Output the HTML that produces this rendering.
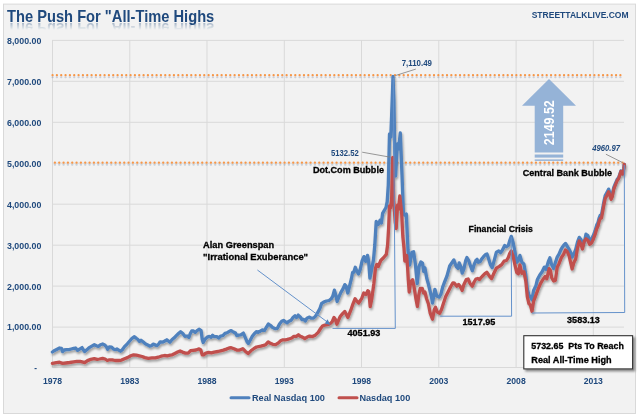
<!DOCTYPE html>
<html><head><meta charset="utf-8"><style>
html,body{margin:0;padding:0;background:#fff;}
svg{display:block;will-change:transform;}
text{font-family:"Liberation Sans",sans-serif;font-weight:bold;}
</style></head><body>
<svg width="640" height="418" viewBox="0 0 640 418">
<defs>
<filter id="sh" x="-5%" y="-5%" width="110%" height="115%">
<feGaussianBlur in="SourceAlpha" stdDeviation="0.9"/>
<feOffset dx="0.8" dy="2" result="b"/>
<feFlood flood-color="#000" flood-opacity="0.35"/>
<feComposite in2="b" operator="in"/>
<feMerge><feMergeNode/><feMergeNode in="SourceGraphic"/></feMerge>
</filter>
<filter id="dsh" x="-5%" y="-50%" width="110%" height="200%">
<feGaussianBlur in="SourceAlpha" stdDeviation="0.7"/>
<feOffset dx="0" dy="1.5" result="b"/>
<feFlood flood-color="#1f3f6f" flood-opacity="0.2"/>
<feComposite in2="b" operator="in"/>
<feMerge><feMergeNode/><feMergeNode in="SourceGraphic"/></feMerge>
</filter>
<filter id="bsh" x="-10%" y="-10%" width="130%" height="140%">
<feGaussianBlur in="SourceAlpha" stdDeviation="1"/>
<feOffset dx="2" dy="2" result="b"/>
<feFlood flood-color="#000" flood-opacity="0.45"/>
<feComposite in2="b" operator="in"/>
<feMerge><feMergeNode/><feMergeNode in="SourceGraphic"/></feMerge>
</filter>
<linearGradient id="refl" x1="0" y1="0" x2="0" y2="1">
<stop offset="0" stop-color="#1f497d" stop-opacity="0"/>
<stop offset="0.4" stop-color="#1f497d" stop-opacity="0"/>
<stop offset="0.8" stop-color="#1f497d" stop-opacity="0.36"/>
</linearGradient>
<filter id="rblur"><feGaussianBlur stdDeviation="0.7"/></filter>
</defs>
<rect x="0" y="0" width="640" height="418" fill="#fff"/>
<rect x="3.5" y="4.1" width="632" height="409.4" fill="#f2f2f2" stroke="#d9d9d9" stroke-width="1"/>
<!-- title -->
<g transform="translate(0,44.2) scale(1,-1)" filter="url(#rblur)"><text x="7" y="21.6" font-size="15.7" fill="url(#refl)" textLength="207.3" lengthAdjust="spacingAndGlyphs">The Push For "All-Time Highs</text></g>
<text x="7" y="21.6" font-size="15.7" fill="#1f497d" textLength="207.3" lengthAdjust="spacingAndGlyphs">The Push For "All-Time Highs</text>
<text x="628.6" y="17.9" font-size="9.9" fill="#1f497d" text-anchor="end" textLength="96.9" lengthAdjust="spacingAndGlyphs">STREETTALKLIVE.COM</text>
<!-- grid -->
<g stroke="#d9d9d9" stroke-width="1">
<line x1="52" y1="40.4" x2="624" y2="40.4"/>
<line x1="52" y1="81.3" x2="624" y2="81.3"/>
<line x1="52" y1="122.3" x2="624" y2="122.3"/>
<line x1="52" y1="163.2" x2="624" y2="163.2"/>
<line x1="52" y1="204.2" x2="624" y2="204.2"/>
<line x1="52" y1="245.2" x2="624" y2="245.2"/>
<line x1="52" y1="286.1" x2="624" y2="286.1"/>
<line x1="52" y1="327.1" x2="624" y2="327.1"/>
<line x1="129.8" y1="40" x2="129.8" y2="367"/>
<line x1="207.0" y1="40" x2="207.0" y2="367"/>
<line x1="284.3" y1="40" x2="284.3" y2="367"/>
<line x1="361.5" y1="40" x2="361.5" y2="367"/>
<line x1="438.8" y1="40" x2="438.8" y2="367"/>
<line x1="516.1" y1="40" x2="516.1" y2="367"/>
<line x1="593.3" y1="40" x2="593.3" y2="367"/>
<line x1="52.5" y1="40" x2="52.5" y2="367.5"/>
<line x1="52" y1="367.5" x2="624" y2="367.5"/>
</g>
<!-- axis labels -->
<g font-size="8.2" fill="#1f497d">
<text x="41.3" y="43.8" text-anchor="end" textLength="34.3" lengthAdjust="spacingAndGlyphs">8,000.00</text>
<text x="41.3" y="84.8" text-anchor="end" textLength="34.3" lengthAdjust="spacingAndGlyphs">7,000.00</text>
<text x="41.3" y="125.7" text-anchor="end" textLength="34.3" lengthAdjust="spacingAndGlyphs">6,000.00</text>
<text x="41.3" y="166.7" text-anchor="end" textLength="34.3" lengthAdjust="spacingAndGlyphs">5,000.00</text>
<text x="41.3" y="207.6" text-anchor="end" textLength="34.3" lengthAdjust="spacingAndGlyphs">4,000.00</text>
<text x="41.3" y="248.6" text-anchor="end" textLength="34.3" lengthAdjust="spacingAndGlyphs">3,000.00</text>
<text x="41.3" y="289.5" text-anchor="end" textLength="34.3" lengthAdjust="spacingAndGlyphs">2,000.00</text>
<text x="41.3" y="330.4" text-anchor="end" textLength="34.3" lengthAdjust="spacingAndGlyphs">1,000.00</text>
<text x="35.6" y="371" text-anchor="middle">-</text>
<text x="52.5" y="383.5" text-anchor="middle" textLength="19.2" lengthAdjust="spacingAndGlyphs">1978</text>
<text x="129.8" y="383.5" text-anchor="middle" textLength="19.2" lengthAdjust="spacingAndGlyphs">1983</text>
<text x="207.0" y="383.5" text-anchor="middle" textLength="19.2" lengthAdjust="spacingAndGlyphs">1988</text>
<text x="284.3" y="383.5" text-anchor="middle" textLength="19.2" lengthAdjust="spacingAndGlyphs">1993</text>
<text x="361.5" y="383.5" text-anchor="middle" textLength="19.2" lengthAdjust="spacingAndGlyphs">1998</text>
<text x="438.8" y="383.5" text-anchor="middle" textLength="19.2" lengthAdjust="spacingAndGlyphs">2003</text>
<text x="516.1" y="383.5" text-anchor="middle" textLength="19.2" lengthAdjust="spacingAndGlyphs">2008</text>
<text x="593.3" y="383.5" text-anchor="middle" textLength="19.2" lengthAdjust="spacingAndGlyphs">2013</text>
</g>
<!-- orange dotted lines -->
<g fill="#f79646" filter="url(#dsh)">
<circle cx="52.56" cy="75.2" r="1.15"/>
<circle cx="54.90" cy="162.7" r="1.15"/>
<circle cx="56.89" cy="75.2" r="1.15"/>
<circle cx="59.23" cy="162.7" r="1.15"/>
<circle cx="61.23" cy="75.2" r="1.15"/>
<circle cx="63.57" cy="162.7" r="1.15"/>
<circle cx="65.56" cy="75.2" r="1.15"/>
<circle cx="67.90" cy="162.7" r="1.15"/>
<circle cx="69.90" cy="75.2" r="1.15"/>
<circle cx="72.23" cy="162.7" r="1.15"/>
<circle cx="74.23" cy="75.2" r="1.15"/>
<circle cx="76.57" cy="162.7" r="1.15"/>
<circle cx="78.57" cy="75.2" r="1.15"/>
<circle cx="80.90" cy="162.7" r="1.15"/>
<circle cx="82.90" cy="75.2" r="1.15"/>
<circle cx="85.24" cy="162.7" r="1.15"/>
<circle cx="87.24" cy="75.2" r="1.15"/>
<circle cx="89.57" cy="162.7" r="1.15"/>
<circle cx="91.57" cy="75.2" r="1.15"/>
<circle cx="93.90" cy="162.7" r="1.15"/>
<circle cx="95.91" cy="75.2" r="1.15"/>
<circle cx="98.24" cy="162.7" r="1.15"/>
<circle cx="100.24" cy="75.2" r="1.15"/>
<circle cx="102.57" cy="162.7" r="1.15"/>
<circle cx="104.58" cy="75.2" r="1.15"/>
<circle cx="106.90" cy="162.7" r="1.15"/>
<circle cx="108.91" cy="75.2" r="1.15"/>
<circle cx="111.24" cy="162.7" r="1.15"/>
<circle cx="113.24" cy="75.2" r="1.15"/>
<circle cx="115.57" cy="162.7" r="1.15"/>
<circle cx="117.58" cy="75.2" r="1.15"/>
<circle cx="119.90" cy="162.7" r="1.15"/>
<circle cx="121.91" cy="75.2" r="1.15"/>
<circle cx="124.24" cy="162.7" r="1.15"/>
<circle cx="126.25" cy="75.2" r="1.15"/>
<circle cx="128.57" cy="162.7" r="1.15"/>
<circle cx="130.58" cy="75.2" r="1.15"/>
<circle cx="132.90" cy="162.7" r="1.15"/>
<circle cx="134.92" cy="75.2" r="1.15"/>
<circle cx="137.24" cy="162.7" r="1.15"/>
<circle cx="139.25" cy="75.2" r="1.15"/>
<circle cx="141.57" cy="162.7" r="1.15"/>
<circle cx="143.59" cy="75.2" r="1.15"/>
<circle cx="145.91" cy="162.7" r="1.15"/>
<circle cx="147.92" cy="75.2" r="1.15"/>
<circle cx="150.24" cy="162.7" r="1.15"/>
<circle cx="152.26" cy="75.2" r="1.15"/>
<circle cx="154.57" cy="162.7" r="1.15"/>
<circle cx="156.59" cy="75.2" r="1.15"/>
<circle cx="158.91" cy="162.7" r="1.15"/>
<circle cx="160.93" cy="75.2" r="1.15"/>
<circle cx="163.24" cy="162.7" r="1.15"/>
<circle cx="165.26" cy="75.2" r="1.15"/>
<circle cx="167.57" cy="162.7" r="1.15"/>
<circle cx="169.59" cy="75.2" r="1.15"/>
<circle cx="171.91" cy="162.7" r="1.15"/>
<circle cx="173.93" cy="75.2" r="1.15"/>
<circle cx="176.24" cy="162.7" r="1.15"/>
<circle cx="178.26" cy="75.2" r="1.15"/>
<circle cx="180.57" cy="162.7" r="1.15"/>
<circle cx="182.60" cy="75.2" r="1.15"/>
<circle cx="184.91" cy="162.7" r="1.15"/>
<circle cx="186.93" cy="75.2" r="1.15"/>
<circle cx="189.24" cy="162.7" r="1.15"/>
<circle cx="191.27" cy="75.2" r="1.15"/>
<circle cx="193.58" cy="162.7" r="1.15"/>
<circle cx="195.60" cy="75.2" r="1.15"/>
<circle cx="197.91" cy="162.7" r="1.15"/>
<circle cx="199.94" cy="75.2" r="1.15"/>
<circle cx="202.24" cy="162.7" r="1.15"/>
<circle cx="204.27" cy="75.2" r="1.15"/>
<circle cx="206.58" cy="162.7" r="1.15"/>
<circle cx="208.61" cy="75.2" r="1.15"/>
<circle cx="210.91" cy="162.7" r="1.15"/>
<circle cx="212.94" cy="75.2" r="1.15"/>
<circle cx="215.24" cy="162.7" r="1.15"/>
<circle cx="217.27" cy="75.2" r="1.15"/>
<circle cx="219.58" cy="162.7" r="1.15"/>
<circle cx="221.61" cy="75.2" r="1.15"/>
<circle cx="223.91" cy="162.7" r="1.15"/>
<circle cx="225.94" cy="75.2" r="1.15"/>
<circle cx="228.24" cy="162.7" r="1.15"/>
<circle cx="230.28" cy="75.2" r="1.15"/>
<circle cx="232.58" cy="162.7" r="1.15"/>
<circle cx="234.61" cy="75.2" r="1.15"/>
<circle cx="236.91" cy="162.7" r="1.15"/>
<circle cx="238.95" cy="75.2" r="1.15"/>
<circle cx="241.24" cy="162.7" r="1.15"/>
<circle cx="243.28" cy="75.2" r="1.15"/>
<circle cx="245.58" cy="162.7" r="1.15"/>
<circle cx="247.62" cy="75.2" r="1.15"/>
<circle cx="249.91" cy="162.7" r="1.15"/>
<circle cx="251.95" cy="75.2" r="1.15"/>
<circle cx="254.25" cy="162.7" r="1.15"/>
<circle cx="256.29" cy="75.2" r="1.15"/>
<circle cx="258.58" cy="162.7" r="1.15"/>
<circle cx="260.62" cy="75.2" r="1.15"/>
<circle cx="262.91" cy="162.7" r="1.15"/>
<circle cx="264.96" cy="75.2" r="1.15"/>
<circle cx="267.25" cy="162.7" r="1.15"/>
<circle cx="269.29" cy="75.2" r="1.15"/>
<circle cx="271.58" cy="162.7" r="1.15"/>
<circle cx="273.62" cy="75.2" r="1.15"/>
<circle cx="275.91" cy="162.7" r="1.15"/>
<circle cx="277.96" cy="75.2" r="1.15"/>
<circle cx="280.25" cy="162.7" r="1.15"/>
<circle cx="282.29" cy="75.2" r="1.15"/>
<circle cx="284.58" cy="162.7" r="1.15"/>
<circle cx="286.63" cy="75.2" r="1.15"/>
<circle cx="288.91" cy="162.7" r="1.15"/>
<circle cx="290.96" cy="75.2" r="1.15"/>
<circle cx="293.25" cy="162.7" r="1.15"/>
<circle cx="295.30" cy="75.2" r="1.15"/>
<circle cx="297.58" cy="162.7" r="1.15"/>
<circle cx="299.63" cy="75.2" r="1.15"/>
<circle cx="301.92" cy="162.7" r="1.15"/>
<circle cx="303.97" cy="75.2" r="1.15"/>
<circle cx="306.25" cy="162.7" r="1.15"/>
<circle cx="308.30" cy="75.2" r="1.15"/>
<circle cx="310.58" cy="162.7" r="1.15"/>
<circle cx="312.64" cy="75.2" r="1.15"/>
<circle cx="314.92" cy="162.7" r="1.15"/>
<circle cx="316.97" cy="75.2" r="1.15"/>
<circle cx="319.25" cy="162.7" r="1.15"/>
<circle cx="321.31" cy="75.2" r="1.15"/>
<circle cx="323.58" cy="162.7" r="1.15"/>
<circle cx="325.64" cy="75.2" r="1.15"/>
<circle cx="327.92" cy="162.7" r="1.15"/>
<circle cx="329.97" cy="75.2" r="1.15"/>
<circle cx="332.25" cy="162.7" r="1.15"/>
<circle cx="334.31" cy="75.2" r="1.15"/>
<circle cx="336.58" cy="162.7" r="1.15"/>
<circle cx="338.64" cy="75.2" r="1.15"/>
<circle cx="340.92" cy="162.7" r="1.15"/>
<circle cx="342.98" cy="75.2" r="1.15"/>
<circle cx="345.25" cy="162.7" r="1.15"/>
<circle cx="347.31" cy="75.2" r="1.15"/>
<circle cx="349.58" cy="162.7" r="1.15"/>
<circle cx="351.65" cy="75.2" r="1.15"/>
<circle cx="353.92" cy="162.7" r="1.15"/>
<circle cx="355.98" cy="75.2" r="1.15"/>
<circle cx="358.25" cy="162.7" r="1.15"/>
<circle cx="360.32" cy="75.2" r="1.15"/>
<circle cx="362.59" cy="162.7" r="1.15"/>
<circle cx="364.65" cy="75.2" r="1.15"/>
<circle cx="366.92" cy="162.7" r="1.15"/>
<circle cx="368.99" cy="75.2" r="1.15"/>
<circle cx="371.25" cy="162.7" r="1.15"/>
<circle cx="373.32" cy="75.2" r="1.15"/>
<circle cx="375.59" cy="162.7" r="1.15"/>
<circle cx="377.66" cy="75.2" r="1.15"/>
<circle cx="379.92" cy="162.7" r="1.15"/>
<circle cx="381.99" cy="75.2" r="1.15"/>
<circle cx="384.25" cy="162.7" r="1.15"/>
<circle cx="386.32" cy="75.2" r="1.15"/>
<circle cx="388.59" cy="162.7" r="1.15"/>
<circle cx="390.66" cy="75.2" r="1.15"/>
<circle cx="392.92" cy="162.7" r="1.15"/>
<circle cx="394.99" cy="75.2" r="1.15"/>
<circle cx="397.25" cy="162.7" r="1.15"/>
<circle cx="399.33" cy="75.2" r="1.15"/>
<circle cx="401.59" cy="162.7" r="1.15"/>
<circle cx="403.66" cy="75.2" r="1.15"/>
<circle cx="405.92" cy="162.7" r="1.15"/>
<circle cx="408.00" cy="75.2" r="1.15"/>
<circle cx="410.26" cy="162.7" r="1.15"/>
<circle cx="412.33" cy="75.2" r="1.15"/>
<circle cx="414.59" cy="162.7" r="1.15"/>
<circle cx="416.67" cy="75.2" r="1.15"/>
<circle cx="418.92" cy="162.7" r="1.15"/>
<circle cx="421.00" cy="75.2" r="1.15"/>
<circle cx="423.26" cy="162.7" r="1.15"/>
<circle cx="425.34" cy="75.2" r="1.15"/>
<circle cx="427.59" cy="162.7" r="1.15"/>
<circle cx="429.67" cy="75.2" r="1.15"/>
<circle cx="431.92" cy="162.7" r="1.15"/>
<circle cx="434.00" cy="75.2" r="1.15"/>
<circle cx="436.26" cy="162.7" r="1.15"/>
<circle cx="438.34" cy="75.2" r="1.15"/>
<circle cx="440.59" cy="162.7" r="1.15"/>
<circle cx="442.67" cy="75.2" r="1.15"/>
<circle cx="444.92" cy="162.7" r="1.15"/>
<circle cx="447.01" cy="75.2" r="1.15"/>
<circle cx="449.26" cy="162.7" r="1.15"/>
<circle cx="451.34" cy="75.2" r="1.15"/>
<circle cx="453.59" cy="162.7" r="1.15"/>
<circle cx="455.68" cy="75.2" r="1.15"/>
<circle cx="457.92" cy="162.7" r="1.15"/>
<circle cx="460.01" cy="75.2" r="1.15"/>
<circle cx="462.26" cy="162.7" r="1.15"/>
<circle cx="464.35" cy="75.2" r="1.15"/>
<circle cx="466.59" cy="162.7" r="1.15"/>
<circle cx="468.68" cy="75.2" r="1.15"/>
<circle cx="470.93" cy="162.7" r="1.15"/>
<circle cx="473.02" cy="75.2" r="1.15"/>
<circle cx="475.26" cy="162.7" r="1.15"/>
<circle cx="477.35" cy="75.2" r="1.15"/>
<circle cx="479.59" cy="162.7" r="1.15"/>
<circle cx="481.69" cy="75.2" r="1.15"/>
<circle cx="483.93" cy="162.7" r="1.15"/>
<circle cx="486.02" cy="75.2" r="1.15"/>
<circle cx="488.26" cy="162.7" r="1.15"/>
<circle cx="490.35" cy="75.2" r="1.15"/>
<circle cx="492.59" cy="162.7" r="1.15"/>
<circle cx="494.69" cy="75.2" r="1.15"/>
<circle cx="496.93" cy="162.7" r="1.15"/>
<circle cx="499.02" cy="75.2" r="1.15"/>
<circle cx="501.26" cy="162.7" r="1.15"/>
<circle cx="503.36" cy="75.2" r="1.15"/>
<circle cx="505.59" cy="162.7" r="1.15"/>
<circle cx="507.69" cy="75.2" r="1.15"/>
<circle cx="509.93" cy="162.7" r="1.15"/>
<circle cx="512.03" cy="75.2" r="1.15"/>
<circle cx="514.26" cy="162.7" r="1.15"/>
<circle cx="516.36" cy="75.2" r="1.15"/>
<circle cx="518.60" cy="162.7" r="1.15"/>
<circle cx="520.70" cy="75.2" r="1.15"/>
<circle cx="522.93" cy="162.7" r="1.15"/>
<circle cx="525.03" cy="75.2" r="1.15"/>
<circle cx="527.26" cy="162.7" r="1.15"/>
<circle cx="529.37" cy="75.2" r="1.15"/>
<circle cx="531.60" cy="162.7" r="1.15"/>
<circle cx="533.70" cy="75.2" r="1.15"/>
<circle cx="535.93" cy="162.7" r="1.15"/>
<circle cx="538.04" cy="75.2" r="1.15"/>
<circle cx="540.26" cy="162.7" r="1.15"/>
<circle cx="542.37" cy="75.2" r="1.15"/>
<circle cx="544.60" cy="162.7" r="1.15"/>
<circle cx="546.70" cy="75.2" r="1.15"/>
<circle cx="548.93" cy="162.7" r="1.15"/>
<circle cx="551.04" cy="75.2" r="1.15"/>
<circle cx="553.26" cy="162.7" r="1.15"/>
<circle cx="555.37" cy="75.2" r="1.15"/>
<circle cx="557.60" cy="162.7" r="1.15"/>
<circle cx="559.71" cy="75.2" r="1.15"/>
<circle cx="561.93" cy="162.7" r="1.15"/>
<circle cx="564.04" cy="75.2" r="1.15"/>
<circle cx="566.26" cy="162.7" r="1.15"/>
<circle cx="568.38" cy="75.2" r="1.15"/>
<circle cx="570.60" cy="162.7" r="1.15"/>
<circle cx="572.71" cy="75.2" r="1.15"/>
<circle cx="574.93" cy="162.7" r="1.15"/>
<circle cx="577.05" cy="75.2" r="1.15"/>
<circle cx="579.27" cy="162.7" r="1.15"/>
<circle cx="581.38" cy="75.2" r="1.15"/>
<circle cx="583.60" cy="162.7" r="1.15"/>
<circle cx="585.72" cy="75.2" r="1.15"/>
<circle cx="587.93" cy="162.7" r="1.15"/>
<circle cx="590.05" cy="75.2" r="1.15"/>
<circle cx="592.27" cy="162.7" r="1.15"/>
<circle cx="594.38" cy="75.2" r="1.15"/>
<circle cx="596.60" cy="162.7" r="1.15"/>
<circle cx="598.72" cy="75.2" r="1.15"/>
<circle cx="600.93" cy="162.7" r="1.15"/>
<circle cx="603.05" cy="75.2" r="1.15"/>
<circle cx="605.27" cy="162.7" r="1.15"/>
<circle cx="607.39" cy="75.2" r="1.15"/>
<circle cx="609.60" cy="162.7" r="1.15"/>
<circle cx="611.72" cy="75.2" r="1.15"/>
<circle cx="613.93" cy="162.7" r="1.15"/>
<circle cx="616.06" cy="75.2" r="1.15"/>
<circle cx="618.27" cy="162.7" r="1.15"/>
<circle cx="620.39" cy="75.2" r="1.15"/>
<circle cx="622.60" cy="162.7" r="1.15"/>
</g>
<!-- arrow -->
<g fill="#95b3d7">
<polygon points="549,79 576,105.8 563.2,105.8 563.2,152.5 534.7,152.5 534.7,105.8 522,105.8"/>
<rect x="534.7" y="154.5" width="28.5" height="3.1"/>
<rect x="534.7" y="159.4" width="28.5" height="1.5"/>
</g>
<text transform="translate(553.8,145.2) rotate(-90)" font-size="13.9" fill="#fff" textLength="45" lengthAdjust="spacingAndGlyphs">2149.52</text>
<!-- lines -->
<g fill="none" stroke-width="3.3" stroke-linejoin="round" stroke-linecap="round" filter="url(#sh)">
<polyline stroke="#4f81bd" points="52.4,352.0 54.7,350.4 57.1,349.2 59.5,348.0 61.4,348.4 62.6,351.6 64.2,350.0 66.6,349.6 68.9,349.6 71.3,349.0 73.7,348.4 75.6,348.0 77.6,350.4 80.0,348.8 82.0,347.6 83.1,349.6 84.6,351.6 87.2,349.4 89.3,347.6 91.8,346.1 94.3,344.7 96.5,345.8 98.3,346.5 100.4,344.7 102.6,344.0 104.7,345.0 106.5,346.8 107.6,349.4 109.4,346.8 111.6,347.2 113.4,349.0 115.2,349.7 116.9,349.0 118.7,350.1 120.5,351.2 122.3,349.7 124.5,346.6 127.3,343.8 129.7,341.0 132.0,338.3 134.4,336.7 136.3,338.3 137.9,339.5 139.5,341.4 141.0,340.2 143.0,341.8 145.3,343.8 147.7,344.9 149.6,346.1 151.6,345.7 153.1,344.1 155.1,344.9 157.0,345.7 158.6,344.1 160.2,341.8 162.5,342.2 164.8,341.0 166.8,339.8 168.4,341.0 169.9,342.2 171.9,339.8 174.2,337.8 176.3,335.6 178.5,333.5 180.6,331.7 182.8,333.5 184.9,336.4 187.1,336.0 188.9,337.4 190.3,333.5 191.7,331.0 193.5,331.0 195.3,332.4 197.1,330.6 199.3,329.2 201.1,330.6 202.2,339.2 203.2,342.5 205.0,339.2 207.2,337.1 209.3,336.4 211.1,337.4 212.6,335.3 214.4,336.7 216.8,336.6 218.6,338.1 220.7,336.0 222.9,335.6 225.0,333.4 227.2,332.7 229.4,331.3 231.2,330.6 233.3,332.0 235.5,333.1 236.9,335.6 238.7,335.2 240.8,334.9 243.4,333.1 245.2,337.4 247.0,341.7 248.4,343.5 250.2,340.3 252.3,336.3 254.5,333.4 256.6,331.6 258.1,332.4 260.0,331.3 262.3,329.8 264.5,330.5 266.3,327.3 268.4,324.0 270.6,325.5 272.7,327.6 275.2,328.7 277.4,328.3 279.5,324.0 281.7,321.2 283.5,320.4 285.6,321.9 287.1,322.9 288.9,321.2 291.0,320.4 293.2,317.2 295.0,315.8 296.4,317.6 298.2,315.1 300.4,317.2 302.1,319.7 303.8,319.5 305.4,320.9 307.0,318.2 309.1,317.1 311.3,318.2 313.5,318.2 315.6,316.1 317.8,312.3 319.9,308.5 321.5,303.7 323.7,302.1 326.4,301.0 329.1,300.5 331.2,298.8 332.8,296.1 334.4,290.2 336.1,296.1 337.1,301.5 338.8,297.2 340.9,292.4 343.1,288.6 344.8,284.6 346.0,285.8 347.8,293.0 349.6,285.8 351.4,278.7 352.6,272.5 353.8,272.3 355.3,267.3 356.7,270.9 358.5,273.9 360.3,269.1 362.1,260.8 363.9,256.6 365.7,261.4 367.5,255.4 368.7,261.9 369.9,278.1 371.7,269.1 373.5,259.6 374.8,245.0 376.2,221.5 378.3,224.5 380.1,220.1 381.4,223.0 382.6,213.4 384.5,210.0 386.0,207.5 387.2,201.7 388.3,185.0 389.5,134.0 390.8,137.0 392.2,100.0 393.0,76.5 393.9,100.0 394.7,150.0 395.6,176.0 397.3,144.0 398.6,149.0 400.3,133.0 402.0,175.0 403.4,213.0 404.5,215.0 406.3,214.0 408.0,250.0 409.7,265.0 411.8,252.4 413.6,251.8 415.4,264.3 417.2,283.5 419.0,266.7 420.8,262.0 422.5,263.1 423.7,271.5 424.9,267.9 426.7,278.0 428.5,284.5 430.3,292.0 431.5,297.0 432.5,303.0 433.7,296.5 434.9,289.3 436.7,295.9 439.1,297.1 440.9,294.1 442.7,287.0 444.5,282.2 446.9,276.2 449.7,266.0 453.8,259.9 456.2,266.5 458.0,268.3 459.2,262.9 461.0,267.1 462.2,273.1 463.9,268.9 465.7,260.5 466.9,257.5 468.7,260.5 470.5,265.9 472.3,270.7 474.1,264.7 475.9,260.5 477.1,259.3 478.3,262.3 480.1,261.7 481.9,258.7 483.7,256.4 485.5,254.6 487.0,254.0 488.6,258.7 490.4,264.6 492.2,267.6 494.0,261.1 496.4,252.1 498.7,250.9 500.5,252.7 502.3,250.3 504.7,245.5 506.5,246.7 508.3,245.5 509.5,241.4 511.3,236.4 513.1,242.5 514.9,251.5 516.7,262.3 518.2,260.7 519.9,255.4 521.9,262.4 523.9,264.0 525.8,274.9 527.3,288.9 528.9,295.1 530.4,296.7 532.0,299.8 533.6,290.4 535.9,285.8 537.4,279.5 539.8,274.9 542.1,271.8 544.4,267.1 546.0,269.4 548.3,261.7 549.9,257.8 551.4,264.0 553.6,268.5 555.4,262.5 557.2,257.1 559.0,254.1 560.8,249.9 562.5,246.9 564.3,244.6 565.5,243.4 567.3,246.4 569.1,249.3 570.9,252.9 572.1,257.1 573.9,254.1 575.7,249.3 577.5,242.2 579.3,237.4 581.1,239.8 582.9,245.8 584.6,241.0 586.0,234.2 587.8,235.6 589.6,240.3 591.4,239.3 593.2,235.8 595.0,231.1 596.7,225.1 597.9,222.8 599.1,218.1 600.3,215.2 601.5,214.7 602.7,208.3 603.9,201.7 605.2,195.5 606.9,192.7 608.6,189.1 609.8,192.8 611.1,197.2 612.3,194.9 613.7,187.7 615.0,184.4 616.2,181.6 617.2,179.3 618.7,177.5 619.8,174.2 620.9,170.9 622.0,172.0 622.8,173.7 623.8,168.7 624.3,164.5"/>
<polyline stroke="#c0504d" points="52.4,363.4 56.3,362.6 59.5,362.2 62.6,363.4 65.8,363.0 69.7,362.5 73.7,361.8 76.8,361.4 80.0,361.4 83.1,362.2 84.7,362.6 87.5,360.6 90.7,359.4 94.3,358.7 97.2,359.4 99.4,359.0 102.6,358.3 105.1,359.0 107.3,360.5 109.4,359.8 112.3,359.8 115.2,360.5 118.7,360.5 121.6,360.1 124.5,358.7 127.4,357.6 130.8,355.8 133.6,354.8 136.4,355.1 139.3,355.8 142.1,356.5 144.9,357.6 148.4,358.3 151.9,357.9 155.4,357.9 158.2,357.2 161.1,356.2 164.6,355.5 167.4,355.8 170.2,355.1 172.2,354.8 174.8,353.5 177.6,352.1 180.1,351.0 182.5,352.1 185.4,353.1 188.2,353.1 190.6,350.7 193.1,350.3 195.9,350.0 199.1,348.9 200.8,350.0 202.2,354.9 203.6,354.9 205.8,353.1 208.6,352.4 211.4,352.8 214.2,352.1 217.8,351.5 220.6,350.8 223.4,350.1 226.3,349.1 229.1,348.0 231.2,347.7 234.0,348.7 236.8,350.1 239.6,350.1 242.8,348.7 245.2,351.2 248.1,353.6 250.9,350.8 253.7,348.7 256.5,347.0 260.8,346.1 263.6,345.4 265.7,344.7 268.2,341.9 270.3,343.3 272.8,344.3 275.6,344.7 278.4,342.9 280.5,340.8 283.0,339.8 285.4,339.8 287.5,339.4 289.6,338.7 291.8,338.0 293.9,336.3 296.3,336.3 298.4,334.8 300.2,336.3 302.4,337.1 304.8,338.5 307.2,337.1 309.6,336.1 312.5,336.6 315.3,335.2 318.2,332.3 320.6,328.5 322.5,326.1 324.9,325.1 327.8,324.6 330.2,323.7 332.1,321.8 334.0,317.5 335.4,319.4 336.9,324.2 338.3,320.8 340.2,316.5 342.6,313.6 344.8,311.5 347.9,317.4 350.8,310.2 353.0,303.8 355.1,298.7 356.6,300.9 358.7,303.0 361.6,298.7 363.7,293.0 365.9,294.4 367.8,290.8 368.8,291.6 370.2,306.6 371.6,300.0 373.8,284.0 375.5,268.0 376.8,264.4 378.3,266.5 380.9,260.2 383.5,257.7 386.3,254.4 387.6,245.0 388.6,228.5 389.5,206.0 390.5,208.0 391.6,200.0 392.7,157.5 393.7,200.0 395.2,222.0 396.2,228.5 397.6,205.0 398.5,209.0 399.8,196.0 401.6,212.0 402.8,236.0 404.0,248.0 404.8,261.0 406.7,255.5 407.6,268.0 408.3,280.0 409.2,292.0 410.7,281.6 412.6,279.7 414.0,286.4 415.9,298.8 417.4,306.5 418.8,295.0 420.2,288.3 422.2,288.3 423.6,293.1 425.0,292.1 426.5,298.5 428.4,303.7 430.2,313.2 432.5,319.2 434.3,309.6 435.5,307.3 437.3,312.0 439.7,313.2 441.5,309.6 443.3,303.7 445.7,296.5 448.1,291.7 450.5,287.0 452.9,282.8 454.4,283.2 456.8,286.2 458.6,284.4 460.4,286.8 462.2,290.4 463.9,284.4 466.3,279.6 468.1,279.0 469.9,283.2 472.3,286.2 474.1,282.0 475.9,279.0 477.7,278.5 479.5,279.6 481.3,277.3 483.1,275.5 484.9,273.7 486.8,272.3 489.8,276.6 491.6,278.6 494.0,273.0 496.4,268.2 499.3,266.4 501.7,264.6 504.1,261.1 506.5,260.5 508.3,257.5 509.5,253.9 511.3,250.9 513.1,256.3 514.9,264.6 516.7,272.4 518.3,273.8 519.9,264.8 521.9,273.3 523.9,271.8 525.8,281.1 527.3,296.7 528.9,303.7 530.4,305.2 532.0,311.4 533.6,301.3 535.9,295.1 538.2,288.9 540.6,283.4 542.9,279.5 545.2,276.4 546.8,278.8 549.1,268.7 550.3,270.0 551.8,278.0 553.6,281.0 555.4,280.4 557.2,267.3 559.0,263.7 561.4,257.7 563.7,254.1 565.5,249.9 567.3,251.7 569.1,255.9 570.9,263.7 572.1,269.0 573.9,262.5 575.7,258.9 577.5,248.1 579.3,241.0 581.1,244.6 582.5,249.0 584.2,241.5 586.0,238.8 587.8,240.0 589.6,244.3 591.4,243.1 593.2,239.5 595.0,234.7 596.7,228.7 597.9,226.3 599.1,221.5 600.3,218.5 601.5,217.9 602.7,211.5 603.9,204.8 605.2,198.5 606.9,195.5 608.6,191.7 609.8,195.1 611.1,199.3 612.3,196.8 613.7,189.5 615.0,186.0 616.2,183.0 617.2,180.5 618.7,178.5 619.8,175.0 620.9,171.5 622.0,172.4 622.8,174.0 623.8,168.8 624.3,164.5"/>
</g>
<!-- annotation brackets -->
<g stroke="#6592cb" stroke-width="1" fill="none">
<polyline points="332.5,328.4 395.3,328.4 393.3,78"/>
<polyline points="440.2,316.2 511.6,316.2 511.2,237"/>
<polyline points="531.9,313 624.7,312.5 624.3,165"/>
<line x1="257.4" y1="270" x2="327" y2="321.8"/>
</g>
<polygon points="330.5,324.9 324.8,323.4 327.5,319.2" fill="#4f81bd"/>
<!-- leader lines -->
<g stroke="#7f7f7f" stroke-width="0.8">
<line x1="395.6" y1="75.5" x2="415.8" y2="69.1"/>
<line x1="362.2" y1="152.2" x2="390.3" y2="157.2"/>
<line x1="605.9" y1="154.2" x2="622.6" y2="162.6"/>
</g>
<!-- value labels -->
<g fill="#1f497d" font-size="8.8">
<text x="401.7" y="65.7" textLength="30.3" lengthAdjust="spacingAndGlyphs">7,110.49</text>
<text x="330.9" y="155.7" textLength="27.85" lengthAdjust="spacingAndGlyphs">5132.52</text>
<text x="592.2" y="150.5" font-style="italic" textLength="27.9" lengthAdjust="spacingAndGlyphs">4960.97</text>
</g>
<!-- black annotations -->
<g fill="#000" font-size="9.6" stroke="#000" stroke-width="0.3">
<text x="203.1" y="247.5" textLength="71.1" lengthAdjust="spacingAndGlyphs">Alan Greenspan</text>
<text x="203.1" y="260.4" textLength="105" lengthAdjust="spacingAndGlyphs">"Irrational Exuberance"</text>
<text x="312.9" y="172.9" textLength="71.1" lengthAdjust="spacingAndGlyphs">Dot.Com Bubble</text>
<text x="468.6" y="231.6" textLength="64.2" lengthAdjust="spacingAndGlyphs">Financial Crisis</text>
<text x="522.7" y="175.5" textLength="89.4" lengthAdjust="spacingAndGlyphs">Central Bank Bubble</text>
<text x="347.5" y="336" font-size="9.2" textLength="32.8" lengthAdjust="spacingAndGlyphs">4051.93</text>
<text x="462.5" y="324.7" font-size="9.3" textLength="32.8" lengthAdjust="spacingAndGlyphs">1517.95</text>
<text x="567.1" y="323.4" font-size="9.4" textLength="32.7" lengthAdjust="spacingAndGlyphs">3583.13</text>
</g>
<!-- text box -->
<rect x="523.8" y="335.7" width="108.8" height="33.2" fill="#fff" stroke="#333" stroke-width="1.1" filter="url(#bsh)"/>
<g fill="#000" font-size="9.6" stroke="#000" stroke-width="0.3">
<text x="531.3" y="349.3" textLength="92.5" lengthAdjust="spacingAndGlyphs" xml:space="preserve">5732.65  Pts To Reach</text>
<text x="531.3" y="362.5" textLength="80.3" lengthAdjust="spacingAndGlyphs">Real All-Time High</text>
</g>
<!-- legend -->
<line x1="231" y1="397.7" x2="249" y2="397.7" stroke="#4f81bd" stroke-width="3" stroke-linecap="round"/>
<line x1="339" y1="397.7" x2="357" y2="397.7" stroke="#c0504d" stroke-width="3" stroke-linecap="round"/>
<g fill="#1f497d" font-size="9.9">
<text x="251.9" y="400.5" textLength="73.1" lengthAdjust="spacingAndGlyphs">Real Nasdaq 100</text>
<text x="359.4" y="400.5" textLength="50.9" lengthAdjust="spacingAndGlyphs">Nasdaq 100</text>
</g>
</svg>
</body></html>
